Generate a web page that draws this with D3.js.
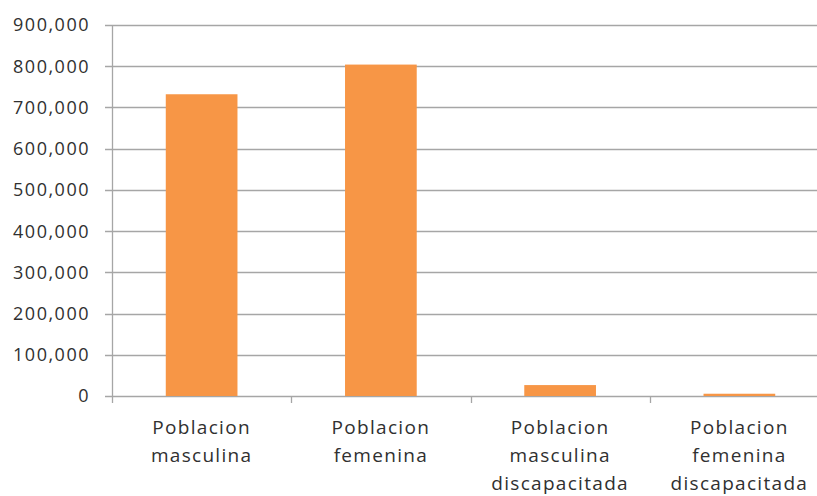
<!DOCTYPE html>
<html>
<head>
<meta charset="utf-8">
<script src="https://cdn.jsdelivr.net/npm/d3@7"></script>
<style>
  body { margin: 0; background: #fff; }
  svg text { font-family: "Open Sans", sans-serif; fill: #303030; }
</style>
</head>
<body>
<svg id="chart" width="817" height="496"></svg>
<script>
var categories = [
  ["Poblacion", "masculina"],
  ["Poblacion", "femenina"],
  ["Poblacion", "masculina", "discapacitada"],
  ["Poblacion", "femenina", "discapacitada"]
];
var values = [732000, 804000, 26500, 5500];
var yTicks = [0, 100000, 200000, 300000, 400000, 500000, 600000, 700000, 800000, 900000];

var svg = d3.select("svg#chart");
var margin = { top: 25, left: 112, bottom: 100 };
var plotRight = 829; // plot area runs past the right edge
var baseY = 396;

var keys = categories.map(function(d, i) { return i; });

var x = d3.scaleBand()
  .domain(keys)
  .range([margin.left, plotRight])
  .paddingInner(0.6)
  .paddingOuter(0.3);

var y = d3.scaleLinear()
  .domain([0, 900000])
  .range([baseY, margin.top]);

// gridlines
svg.append("g")
  .selectAll("line")
  .data(yTicks)
  .enter()
  .append("line")
  .attr("x1", margin.left - 7)
  .attr("x2", plotRight)
  .attr("y1", function(d) { return Math.round(y(d)) + 0.5; })
  .attr("y2", function(d) { return Math.round(y(d)) + 0.5; })
  .attr("stroke", "#a6a6a6")
  .attr("stroke-width", 1.3);

// y labels
svg.append("g")
  .selectAll("text")
  .data(yTicks)
  .enter()
  .append("text")
  .attr("x", 90)
  .attr("y", function(d) { return y(d); })
  .attr("dy", "0.36em")
  .attr("text-anchor", "end")
  .style("font-size", "18px")
  .style("letter-spacing", "1.5px")
  .text(function(d) { return d3.format(",")(d); });

// y axis line
svg.append("line")
  .attr("x1", margin.left + 0.5)
  .attr("x2", margin.left + 0.5)
  .attr("y1", y(900000))
  .attr("y2", baseY)
  .attr("stroke", "#a6a6a6")
  .attr("stroke-width", 1.3);

// category tick marks
var step = x.step();
svg.append("g")
  .selectAll("line")
  .data(keys)
  .enter()
  .append("line")
  .attr("x1", function(d) { return Math.round(margin.left + d * step) + 0.5; })
  .attr("x2", function(d) { return Math.round(margin.left + d * step) + 0.5; })
  .attr("y1", baseY)
  .attr("y2", baseY + 7)
  .attr("stroke", "#a6a6a6")
  .attr("stroke-width", 1.3);

// bars
svg.append("g")
  .selectAll("rect")
  .data(values)
  .enter()
  .append("rect")
  .attr("x", function(d, i) { return x(i); })
  .attr("y", function(d) { return y(d); })
  .attr("width", x.bandwidth())
  .attr("height", function(d) { return baseY - y(d); })
  .attr("fill", "#f79646");

// category labels
var labels = svg.append("g")
  .selectAll("text")
  .data(categories)
  .enter()
  .append("text")
  .attr("text-anchor", "middle")
  .style("font-size", "19px")
  .style("letter-spacing", "1.3px");

labels.selectAll("tspan")
  .data(function(d, i) {
    return d.map(function(t) { return { t: t, i: i }; });
  })
  .enter()
  .append("tspan")
  .attr("x", function(d) { return x(d.i) + x.bandwidth() / 2; })
  .attr("y", function(d, j) { return 434 + j * 28; })
  .text(function(d) { return d.t; });
</script>
</body>
</html>
